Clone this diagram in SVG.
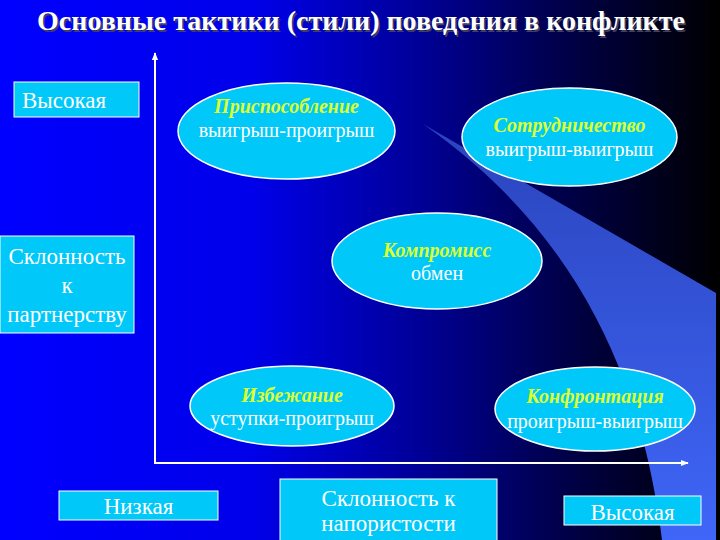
<svg xmlns="http://www.w3.org/2000/svg" width="720" height="540" viewBox="0 0 720 540">
<defs>
<linearGradient id="bg" x1="0" y1="0" x2="1" y2="0">
<stop offset="0" stop-color="#0000ff"/>
<stop offset="0.35" stop-color="#0000ea"/>
<stop offset="0.58" stop-color="#000098"/>
<stop offset="0.78" stop-color="#00004a"/>
<stop offset="1" stop-color="#000000"/>
</linearGradient>
<linearGradient id="beam" x1="0" y1="0" x2="0" y2="1">
<stop offset="0" stop-color="#2a44bc"/>
<stop offset="1" stop-color="#3f66f8"/>
</linearGradient>
<marker id="arr" viewBox="0 0 10 10" refX="9" refY="5" markerWidth="4" markerHeight="4" orient="auto" markerUnits="strokeWidth">
<path d="M0,1 L10,5 L0,9 Z" fill="#ffffff"/>
</marker>
<style>
.box{fill:#00c8f8;stroke:#ffffff;stroke-width:1}
.ell{fill:#00c8f8;stroke:#ffffff;stroke-width:1.5}
.bt{font-family:"Liberation Serif",serif;font-size:23px;fill:#ffffff}
.et{font-family:"Liberation Serif",serif;font-size:20px;fill:#ffffff;text-anchor:middle}
.eh{font-family:"Liberation Serif",serif;font-size:20px;font-weight:bold;font-style:italic;fill:#dcff30;text-anchor:middle}
.ax{stroke:#ffffff;stroke-width:2;fill:none}
.title{font-family:"Liberation Serif",serif;font-size:28px;font-weight:bold;text-anchor:middle}
</style>
</defs>
<rect x="0" y="0" width="720" height="540" fill="url(#bg)"/>
<path d="M423,124 L716,293 L716,540 L662,540 C645,400 590,240 423,124 Z" fill="url(#beam)"/>
<g id="title">
<text class="title" x="362.5" y="31.5" fill="#404060">Основные тактики (стили) поведения в конфликте</text>
<text class="title" x="361" y="30" fill="#ffffff">Основные тактики (стили) поведения в конфликте</text>
</g>
<g id="connectors">
<line class="ax" x1="155" y1="464" x2="155" y2="53" marker-end="url(#arr)"/>
<line class="ax" x1="154" y1="463" x2="688" y2="463" marker-end="url(#arr)"/>
</g>
<g id="y-high">
<rect class="box" x="14" y="82" width="125" height="35"/>
<text class="bt" x="22" y="108">Высокая</text>
</g>
<g id="y-label">
<rect class="box" x="0" y="236" width="134" height="97"/>
<text class="bt" x="67" y="264" text-anchor="middle">Склонность</text>
<text class="bt" x="67" y="293" text-anchor="middle">к</text>
<text class="bt" x="67" y="322" text-anchor="middle">партнерству</text>
</g>
<g id="x-low">
<rect class="box" x="59" y="491" width="159" height="29"/>
<text class="bt" x="138.5" y="514" text-anchor="middle">Низкая</text>
</g>
<g id="x-label">
<rect class="box" x="280" y="479" width="217" height="66"/>
<text class="bt" x="388.5" y="506" text-anchor="middle">Склонность к</text>
<text class="bt" x="388.5" y="531" text-anchor="middle">напористости</text>
</g>
<g id="x-high">
<rect class="box" x="564" y="496" width="137" height="29"/>
<text class="bt" x="632.5" y="520" text-anchor="middle">Высокая</text>
</g>
<g id="accommodation">
<ellipse class="ell" cx="286.5" cy="131" rx="108.5" ry="48"/>
<text class="eh" x="286.5" y="113">Приспособление</text>
<text class="et" x="286.5" y="137">выигрыш-проигрыш</text>
</g>
<g id="collaboration">
<ellipse class="ell" cx="569.5" cy="137" rx="107.5" ry="49"/>
<text class="eh" x="569.5" y="132">Сотрудничество</text>
<text class="et" x="569.5" y="156">выигрыш-выигрыш</text>
</g>
<g id="compromise">
<ellipse class="ell" cx="437" cy="261" rx="105" ry="48"/>
<text class="eh" x="437" y="257">Компромисс</text>
<text class="et" x="437" y="280">обмен</text>
</g>
<g id="avoidance">
<ellipse class="ell" cx="292" cy="406" rx="102" ry="40"/>
<text class="eh" x="292" y="402">Избежание</text>
<text class="et" x="292" y="425">уступки-проигрыш</text>
</g>
<g id="confrontation">
<ellipse class="ell" cx="595" cy="409" rx="100" ry="42"/>
<text class="eh" x="595" y="403">Конфронтация</text>
<text class="et" x="595" y="428">проигрыш-выигрыш</text>
</g>
</svg>
